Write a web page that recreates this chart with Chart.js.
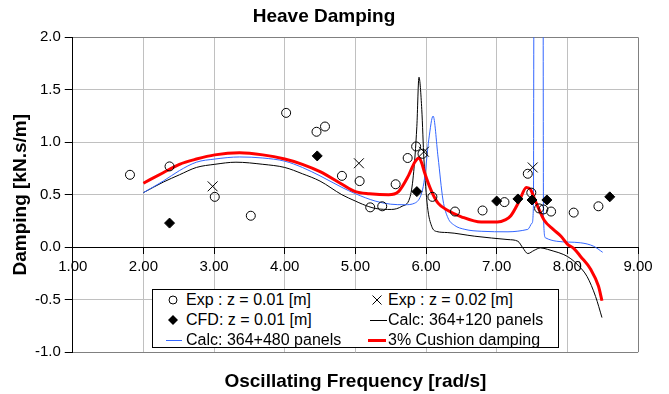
<!DOCTYPE html>
<html>
<head>
<meta charset="utf-8">
<script src="https://cdn.jsdelivr.net/npm/chart.js@4.4.1/dist/chart.umd.min.js"></script>
<style>
  body { margin: 0; background: #fff; }
  #wrap { position: relative; width: 669px; height: 394px; }
  #legend {
    position: absolute; left: 152px; top: 289px; width: 407px; height: 59px;
    box-sizing: border-box; border: 1px solid #000; background: #fff;
  }
  #legend .sym { position: absolute; }
  #legend .lbl {
    position: absolute; font: 16px "Liberation Sans", Arial, sans-serif;
    line-height: 20px; white-space: nowrap; color: #000;
  }
</style>
</head>
<body>
<div id="wrap">
  <canvas id="chart" width="669" height="394"></canvas>
  <div id="legend">
    <svg class="sym" style="left:14px;top:4px" width="12" height="12"><circle cx="6" cy="6" r="4" fill="none" stroke="#000" stroke-width="1"/></svg>
    <span class="lbl" style="left:33px;top:0px">Exp : z = 0.01 [m]</span>
    <svg class="sym" style="left:218px;top:4px" width="12" height="12"><path d="M1.5 1.5 L10.5 10.5 M10.5 1.5 L1.5 10.5" stroke="#000" stroke-width="1"/></svg>
    <span class="lbl" style="left:235px;top:0px">Exp : z = 0.02 [m]</span>
    <svg class="sym" style="left:14px;top:24px" width="12" height="12"><path d="M6 1 L11 6 L6 11 L1 6 Z" fill="#000"/></svg>
    <span class="lbl" style="left:33px;top:20px">CFD: z = 0.01 [m]</span>
    <div class="sym" style="left:217px;top:30px;width:17px;height:1px;background:#000"></div>
    <span class="lbl" style="left:235px;top:20px">Calc: 364+120 panels</span>
    <div class="sym" style="left:13px;top:50px;width:16px;height:1px;background:#3366ff"></div>
    <span class="lbl" style="left:33px;top:40px">Calc: 364+480 panels</span>
    <div class="sym" style="left:215px;top:49px;width:18px;height:3px;background:#ff0000"></div>
    <span class="lbl" style="left:235px;top:40px">3% Cushion damping</span>
  </div>
</div>
<script>
// tick values
const xTickValues = [1, 2, 3, 4, 5, 6, 7, 8, 9];
const yTickValues = [-1, -0.5, 0, 0.5, 1, 1.5, 2];

// Exp : z = 0.01 [m]
const exp1Freq = [1.81, 2.37, 3.01, 3.52, 4.02, 4.45, 4.57, 4.81, 5.06, 5.21, 5.38, 5.57, 5.74, 5.86, 5.95, 6.09, 6.41, 6.80, 7.11, 7.44, 7.49, 7.60, 7.66, 7.77, 8.09, 8.44];
const exp1Damp = [0.69, 0.77, 0.48, 0.30, 1.28, 1.10, 1.15, 0.68, 0.63, 0.38, 0.39, 0.60, 0.85, 0.96, 0.89, 0.48, 0.34, 0.35, 0.43, 0.70, 0.52, 0.37, 0.36, 0.34, 0.33, 0.39];

// Exp : z = 0.02 [m]
const exp2Freq = [2.98, 5.05, 5.97, 7.51];
const exp2Damp = [0.58, 0.80, 0.91, 0.76];

// CFD: z = 0.01 [m]
const cfdFreq = [2.37, 4.46, 5.87, 7.00, 7.30, 7.50, 7.71, 8.60];
const cfdDamp = [0.23, 0.87, 0.53, 0.44, 0.46, 0.45, 0.45, 0.48];

// Calc: 364+120 panels
const calc120Freq = [2.00, 2.28, 2.51, 2.75, 3.01, 3.31, 3.69, 4.00, 4.25, 4.50, 4.81, 5.00, 5.10, 5.28, 5.51, 5.66, 5.77, 5.82, 5.87, 5.90, 5.94, 5.97, 6.02, 6.08, 6.15, 6.30, 6.69, 7.16, 7.30, 7.37, 7.44, 7.53, 7.62, 7.72, 7.81, 7.95, 8.05, 8.15, 8.28, 8.40, 8.49];
const calc120Damp = [0.52, 0.62, 0.69, 0.76, 0.79, 0.81, 0.79, 0.76, 0.70, 0.63, 0.50, 0.44, 0.41, 0.37, 0.36, 0.39, 0.47, 0.68, 1.15, 1.62, 1.31, 0.84, 0.39, 0.20, 0.15, 0.14, 0.105, 0.073, 0.057, -0.006, -0.06, -0.03, -0.006, -0.02, -0.038, -0.07, -0.11, -0.17, -0.28, -0.47, -0.67];

// Calc: 364+480 panels
const calc480Freq = [2.00, 2.28, 2.51, 2.75, 3.01, 3.36, 3.69, 4.00, 4.25, 4.50, 4.81, 5.00, 5.28, 5.50, 5.70, 5.84, 5.94, 5.98, 6.04, 6.10, 6.17, 6.24, 6.31, 6.40, 6.55, 6.78, 7.16, 7.44, 7.50, 7.52, 7.53, 7.655, 7.662, 7.69, 7.85, 8.19, 8.37, 8.50];
const calc480Damp = [0.52, 0.63, 0.73, 0.81, 0.84, 0.86, 0.85, 0.82, 0.76, 0.68, 0.57, 0.51, 0.44, 0.41, 0.405, 0.42, 0.52, 0.66, 1.03, 1.25, 0.86, 0.45, 0.28, 0.21, 0.17, 0.152, 0.147, 0.17, 0.23, 0.40, 3.5, 3.5, 0.30, 0.09, 0.057, 0.042, 0.01, -0.048];

// 3% Cushion damping
const cushionFreq = [2.00, 2.28, 2.51, 2.75, 3.01, 3.36, 3.69, 4.00, 4.25, 4.50, 4.81, 5.00, 5.20, 5.47, 5.61, 5.75, 5.84, 5.90, 5.94, 5.98, 6.08, 6.17, 6.31, 6.50, 6.78, 7.01, 7.12, 7.20, 7.32, 7.42, 7.48, 7.53, 7.58, 7.67, 7.80, 7.91, 8.00, 8.09, 8.19, 8.33, 8.44, 8.49];
const cushionDamp = [0.61, 0.71, 0.79, 0.84, 0.88, 0.90, 0.88, 0.84, 0.79, 0.72, 0.60, 0.53, 0.51, 0.50, 0.53, 0.68, 0.81, 0.85, 0.80, 0.71, 0.53, 0.42, 0.35, 0.29, 0.24, 0.24, 0.26, 0.30, 0.44, 0.57, 0.55, 0.47, 0.39, 0.26, 0.17, 0.105, 0.03, -0.01, -0.09, -0.21, -0.37, -0.51];

const FONT = '"Liberation Sans", Arial, sans-serif';

function pts(xs, ys) {
  return xs.map((x, i) => ({ x: x, y: ys[i] }));
}

function lineSet(label, xs, ys, color, width) {
  return {
    label: label,
    data: pts(xs, ys),
    showLine: true,
    borderColor: color,
    borderWidth: width,
    pointRadius: 0,
    fill: false,
    cubicInterpolationMode: 'monotone'
  };
}

const ctx = document.getElementById('chart').getContext('2d');
new Chart(ctx, {
  type: 'scatter',
  data: {
    datasets: [
      {
        label: 'Exp : z = 0.01 [m]',
        data: pts(exp1Freq, exp1Damp),
        pointStyle: 'circle', pointRadius: 4.5,
        borderColor: '#000', backgroundColor: 'rgba(0,0,0,0)', borderWidth: 1
      },
      {
        label: 'Exp : z = 0.02 [m]',
        data: pts(exp2Freq, exp2Damp),
        pointStyle: 'crossRot', pointRadius: 7,
        borderColor: '#000', borderWidth: 1
      },
      {
        label: 'CFD: z = 0.01 [m]',
        data: pts(cfdFreq, cfdDamp),
        pointStyle: 'rectRot', pointRadius: 5,
        borderColor: '#000', backgroundColor: '#000', borderWidth: 1
      },
      lineSet('3% Cushion damping', cushionFreq, cushionDamp, '#ff0000', 3),
      lineSet('Calc: 364+480 panels', calc480Freq, calc480Damp, '#3366ff', 1),
      lineSet('Calc: 364+120 panels', calc120Freq, calc120Damp, '#000000', 1)
    ]
  },
  options: {
    responsive: false,
    animation: false,
    devicePixelRatio: 1,
    layout: { padding: { left: 10, right: 31, top: 0, bottom: 0 } },
    plugins: {
      legend: { display: false },
      tooltip: { enabled: false },
      title: {
        display: true,
        text: 'Heave Damping',
        color: '#000',
        font: { family: FONT, size: 19, weight: 'bold' },
        padding: { top: 5, bottom: 9.5 }
      },
      subtitle: {
        display: true,
        position: 'bottom',
        fullSize: false,
        text: 'Oscillating Frequency [rad/s]',
        color: '#000',
        font: { family: FONT, size: 19, weight: 'bold' },
        padding: { top: 18, bottom: 1 }
      }
    },
    scales: {
      x: {
        type: 'linear',
        position: { y: 0 },
        min: 1, max: 9,
        afterBuildTicks: axis => { axis.ticks = xTickValues.map(v => ({ value: v })); },
        ticks: {
          color: '#000', font: { family: FONT, size: 15 }, padding: 5,
          maxRotation: 0, autoSkip: false,
          callback: v => v.toFixed(2)
        },
        grid: {
          color: c => (c.tick && c.tick.value === 1) ? '#000' : (c.tick && c.tick.value === 9) ? '#808080' : '#c0c0c0',
          tickColor: '#000', tickLength: 6
        },
        border: { color: '#000', width: 1 }
      },
      y: {
        type: 'linear',
        min: -1, max: 2,
        afterBuildTicks: axis => { axis.ticks = yTickValues.map(v => ({ value: v })); },
        ticks: {
          color: '#000', font: { family: FONT, size: 15 }, padding: 4,
          callback: v => v.toFixed(1)
        },
        grid: {
          color: c => (c.tick && c.tick.value === 0) ? '#000' : (c.tick && (c.tick.value === 2 || c.tick.value === -1)) ? '#808080' : '#c0c0c0',
          tickColor: '#000', tickLength: 8
        },
        border: { color: '#000', width: 1 },
        title: {
          display: true,
          text: 'Damping [kN.s/m]',
          color: '#000',
          font: { family: FONT, size: 19, weight: 'bold', lineHeight: 1.1 },
          padding: 0
        }
      }
    }
  }
});
</script>
</body>
</html>
